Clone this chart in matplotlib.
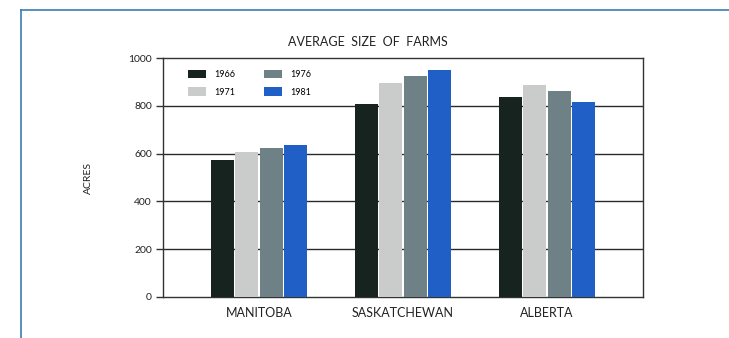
import numpy as np
import matplotlib
matplotlib.use("Agg")
import matplotlib.pyplot as plt
from matplotlib.lines import Line2D

# ── Data ──────────────────────────────────────────────────────────────────────
provinces = ["MANITOBA", "SASKATCHEWAN", "ALBERTA"]
years = ["1966", "1971", "1976", "1981"]
acres_1966 = [572, 807, 835]
acres_1971 = [608, 894, 888]
acres_1976 = [625, 923, 863]
acres_1981 = [636, 951, 814]
yticks = [0, 200, 400, 600, 800, 1000]

series = [acres_1966, acres_1971, acres_1976, acres_1981]
colors = ["#17231e", "#c9ccca", "#6e8187", "#1f5fc6"]

plt.rcParams["font.family"] = ["Lato", "DejaVu Sans"]

fig = plt.figure(figsize=(7.29, 3.38), dpi=100)
ax = fig.add_axes([163 / 729, 41 / 338, 480 / 729, 239 / 338])

x = np.arange(len(provinces))
width = 0.16
step = 0.168
for i, (vals, col, yr) in enumerate(zip(series, colors, years)):
    ax.bar(x + (i - 1.5) * step, vals, width=width, color=col, label=yr, zorder=3)

ax.set_xlim(-0.6667, 2.6667)
ax.set_ylim(0, 1000)
ax.set_yticks(yticks)
ax.set_yticklabels([str(t) for t in yticks], fontsize=7.5, color="#222222")
ax.set_xticks(x)
ax.set_xticklabels(provinces, fontsize=9, color="#222222")
ax.tick_params(axis="x", length=0, pad=7)
ax.tick_params(axis="y", length=5, width=1.0, pad=3, color="#333333")

for t in yticks[1:-1]:
    ax.axhline(t, color="#2a2a2a", linewidth=1.0, zorder=1)

for s in ax.spines.values():
    s.set_color("#333333")
    s.set_linewidth(1.0)

ax.set_ylabel("ACRES", fontsize=7.5, labelpad=40, color="#222222")
ax.yaxis.set_label_coords(-70 / 480, 0.5)

leg = ax.legend(loc="upper left", bbox_to_anchor=(0.035, 0.985), ncol=2,
                frameon=False, fontsize=6.5, handlelength=2.0, handleheight=1.1,
                columnspacing=3.2, labelspacing=0.9, handletextpad=0.9)

fig.text(368 / 729, 1 - 42 / 338, "AVERAGE  SIZE  OF  FARMS", ha="center",
         va="center", fontsize=9, color="#222222")

# blue frame round the figure
frame_col = "#3b7db3"
fig.add_artist(Line2D([21 / 729, 1.0], [1 - 10 / 338, 1 - 10 / 338],
                      transform=fig.transFigure, color=frame_col, linewidth=1.2))
fig.add_artist(Line2D([21 / 729, 21 / 729], [0.0, 1 - 10 / 338],
                      transform=fig.transFigure, color=frame_col, linewidth=1.2))

fig.savefig("out.png", dpi=100)
